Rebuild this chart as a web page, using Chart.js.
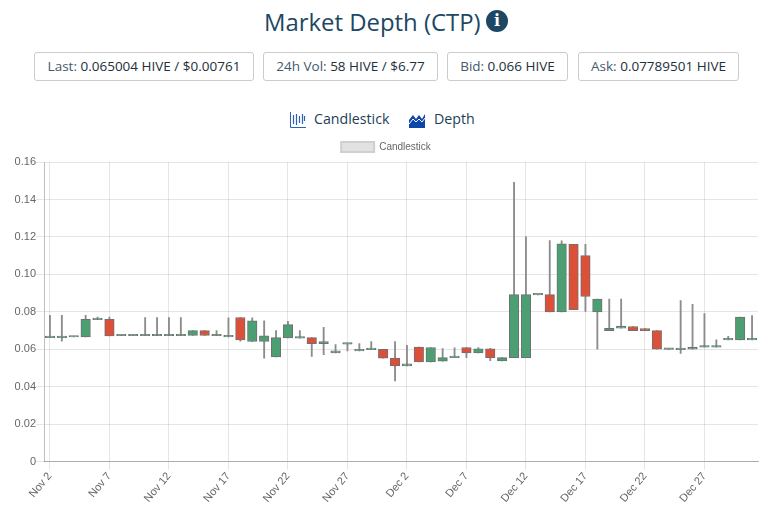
<!DOCTYPE html>
<html>
<head>
<meta charset="utf-8">
<script src="https://cdn.jsdelivr.net/npm/chart.js@4"></script>
<style>
  html, body { margin: 0; padding: 0; background: #fff; }
  body { width: 768px; height: 513px; position: relative; overflow: hidden; font-family: "Open Sans", sans-serif; color: #1f4662; }
  h1 { position: absolute; left: 264px; top: 5px; margin: 0; font-size: 23.9px; line-height: 34px; font-weight: 400; white-space: nowrap; color: #1d4763; }
  .info { position: absolute; left: 486px; top: 10px; width: 22px; height: 22px; border-radius: 50%; background: #1d4763; color: #fff; font: bold 16px/22px "DejaVu Serif", serif; text-align: center; }
  .box { position: absolute; top: 52px; height: 27px; line-height: 27px; border: 1px solid #ccc; border-radius: 3px; font-size: 13.5px; color: #46596a; text-align: center; white-space: nowrap; }
  .box b { font-weight: 400; color: #22303a; }
  .tab { position: absolute; top: 108px; font-size: 14.2px; line-height: 22px; color: #1d3f58; white-space: nowrap; }
  svg { position: absolute; }
  #wrap { position: absolute; left: 0; top: 135px; width: 768px; height: 370px; }
</style>
</head>
<body>
<h1>Market Depth (CTP)</h1>
<div class="info">i</div>

<div class="box" style="left:34px;width:218px"><span>Last:</span> <b>0.065004 HIVE / $0.00761</b></div>
<div class="box" style="left:263px;width:173px"><span>24h Vol:</span> <b>58 HIVE / $6.77</b></div>
<div class="box" style="left:447px;width:119px"><span>Bid:</span> <b>0.066 HIVE</b></div>
<div class="box" style="left:578px;width:159px"><span>Ask:</span> <b>0.07789501 HIVE</b></div>

<svg style="left:290px;top:112px" width="16" height="16" viewBox="0 0 16 16">
  <path d="M0.5 0v15.5H16" fill="none" stroke="#2a62b5" stroke-width="1"/>
  <path d="M3.5 3v9M6.5 2v11M9.5 4v7M12.5 2v10M14.5 4v5" stroke="#2a62b5" stroke-width="1.2"/>
</svg>
<div class="tab" style="left:314px">Candlestick</div>
<svg style="left:409px;top:112px" width="16" height="16" viewBox="0 0 16 16">
  <path d="M0 8L4 3L7 7L10 3L13 7L16 2V16H0Z" fill="#0a47a9"/>
  <path d="M0 12L4 7L7 10L10 7L13 10L16 6" fill="none" stroke="#fff" stroke-width="1"/>
</svg>
<div class="tab" style="left:434px">Depth</div>

<div id="wrap"><canvas id="graficoVelas"></canvas></div>

<script>
const etiquetas = [
  "Nov 2", "Nov 3", "Nov 4", "Nov 5", "Nov 6", "Nov 7", "Nov 8", "Nov 9", "Nov 10", "Nov 11",
  "Nov 12", "Nov 13", "Nov 14", "Nov 15", "Nov 16", "Nov 17", "Nov 18", "Nov 19", "Nov 20", "Nov 21",
  "Nov 22", "Nov 23", "Nov 24", "Nov 25", "Nov 26", "Nov 27", "Nov 28", "Nov 29", "Nov 30", "Dec 1",
  "Dec 2", "Dec 3", "Dec 4", "Dec 5", "Dec 6", "Dec 7", "Dec 8", "Dec 9", "Dec 10", "Dec 11",
  "Dec 12", "Dec 13", "Dec 14", "Dec 15", "Dec 16", "Dec 17", "Dec 18", "Dec 19", "Dec 20", "Dec 21",
  "Dec 22", "Dec 23", "Dec 24", "Dec 25", "Dec 26", "Dec 27", "Dec 28", "Dec 29", "Dec 30", "Dec 31",
];
const aperturas = [
  0.0663, 0.0663, 0.0666, 0.0667, 0.0759, 0.0761, 0.0673, 0.0673, 0.0673, 0.0673,
  0.0673, 0.0673, 0.0674, 0.07, 0.0673, 0.0667, 0.077, 0.0642, 0.0642, 0.056,
  0.0661, 0.066, 0.0663, 0.0631, 0.0581, 0.0628, 0.0592, 0.0599, 0.06, 0.0553,
  0.0512, 0.0612, 0.0533, 0.0537, 0.0556, 0.061, 0.0581, 0.0603, 0.0539, 0.0556,
  0.0556, 0.0891, 0.0892, 0.08, 0.1161, 0.11, 0.08, 0.07, 0.0713, 0.0722,
  0.0711, 0.07, 0.06, 0.0599, 0.0601, 0.0612, 0.0612, 0.0651, 0.0651, 0.0651,
];
const cierres = [
  0.0668, 0.0667, 0.0668, 0.0761, 0.0763, 0.0672, 0.0675, 0.0675, 0.0675, 0.0675,
  0.0675, 0.0675, 0.07, 0.0674, 0.0675, 0.067, 0.0651, 0.0752, 0.0672, 0.0663,
  0.0732, 0.0663, 0.0631, 0.0642, 0.0592, 0.0631, 0.06, 0.0601, 0.0553, 0.0512,
  0.0523, 0.0533, 0.061, 0.0556, 0.0558, 0.0581, 0.0603, 0.0556, 0.0556, 0.0892,
  0.0892, 0.0893, 0.08, 0.1163, 0.0812, 0.0882, 0.0869, 0.0713, 0.0724, 0.07,
  0.07, 0.0601, 0.0602, 0.0601, 0.0611, 0.0614, 0.0614, 0.0653, 0.0773, 0.0653,
];
const maximos = [
  0.0782, 0.0782, 0.0668, 0.0782, 0.0773, 0.0773, 0.0675, 0.0675, 0.077, 0.077,
  0.077, 0.077, 0.07, 0.07, 0.07, 0.0768, 0.077, 0.0768, 0.0752, 0.07,
  0.075, 0.07, 0.0663, 0.0718, 0.0626, 0.0631, 0.0631, 0.0642, 0.06, 0.0642,
  0.0622, 0.0612, 0.061, 0.0604, 0.0608, 0.061, 0.061, 0.0606, 0.0556, 0.1492,
  0.12, 0.0893, 0.118, 0.1179, 0.1161, 0.1161, 0.0869, 0.0868, 0.0868, 0.0722,
  0.0711, 0.07, 0.0602, 0.086, 0.0841, 0.0791, 0.0651, 0.067, 0.0773, 0.078,
];
const minimos = [
  0.0663, 0.0644, 0.0666, 0.0667, 0.0759, 0.0672, 0.0673, 0.0673, 0.0673, 0.0673,
  0.0673, 0.0673, 0.0674, 0.0674, 0.0673, 0.0667, 0.0644, 0.0642, 0.0553, 0.056,
  0.0661, 0.066, 0.0562, 0.0572, 0.0581, 0.0592, 0.0592, 0.0599, 0.0553, 0.0432,
  0.0512, 0.0533, 0.0533, 0.0537, 0.0556, 0.0556, 0.0581, 0.054, 0.0539, 0.0556,
  0.0556, 0.0891, 0.08, 0.08, 0.0812, 0.0802, 0.0601, 0.07, 0.0713, 0.07,
  0.07, 0.0601, 0.06, 0.0578, 0.0601, 0.0612, 0.0612, 0.0651, 0.0651, 0.0651,
];
const marcasY = [0, 0.02, 0.04, 0.06, 0.08, 0.1, 0.12, 0.14, 0.16];

const VERDE = "#4b9f72";
const ROJO = "#dc4f38";
const BORDE = "#707070";

const ctx = document.getElementById("graficoVelas").getContext("2d");
new Chart(ctx, {
  type: "bar",
  data: {
    labels: etiquetas,
    datasets: [
      {
        label: "Candlestick",
        data: aperturas.map((a, i) => [a, cierres[i]]),
        backgroundColor: aperturas.map((a, i) => (cierres[i] >= a ? VERDE : ROJO)),
        borderColor: BORDE,
        borderWidth: 1,
        borderSkipped: false,
        barThickness: 9.5,
        minBarLength: 1.5,
        grouped: false,
        order: 1,
      },
      {
        label: "Mechas",
        data: minimos.map((m, i) => [m, maximos[i]]),
        backgroundColor: "#8c8c8c",
        barThickness: 1.2,
        grouped: false,
        order: 2,
      },
    ],
  },
  options: {
    responsive: true,
    maintainAspectRatio: false,
    animation: false,
    layout: { padding: { left: 14, right: 10, top: 0, bottom: 0 } },
    plugins: {
      legend: {
        display: true,
        labels: {
          color: "#666",
          font: { family: "Liberation Sans", size: 10 },
          boxWidth: 33,
          boxHeight: 10,
          padding: 7,
          generateLabels: () => [
            { text: "Candlestick", fillStyle: "#e2e2e2", strokeStyle: "#cfcfcf", lineWidth: 2, fontColor: "#666" },
          ],
        },
      },
      tooltip: { enabled: false },
    },
    scales: {
      x: {
        offset: true,
        grid: { offset: false, color: "rgba(0,0,0,0.1)", tickLength: 8 },
        border: { color: "rgba(0,0,0,0.25)" },
        ticks: {
          color: "#666",
          font: { family: "Liberation Sans", size: 11 },
          autoSkip: true,
          maxTicksLimit: 12,
          minRotation: 50,
          maxRotation: 50,
          padding: 0,
        },
      },
      y: {
        min: 0,
        max: 0.16,
        afterBuildTicks: (eje) => { eje.ticks = marcasY.map((v) => ({ value: v })); },
        afterFit: (eje) => { eje.width = 30; },
        grid: { color: "rgba(0,0,0,0.1)", tickLength: 8 },
        border: { color: "rgba(0,0,0,0.25)" },
        ticks: {
          color: "#666",
          font: { family: "Liberation Sans", size: 11 },
          padding: 0,
          callback: (v) => (v === 0 ? "0" : v.toFixed(2)),
        },
      },
    },
  },
});
</script>
</body>
</html>
